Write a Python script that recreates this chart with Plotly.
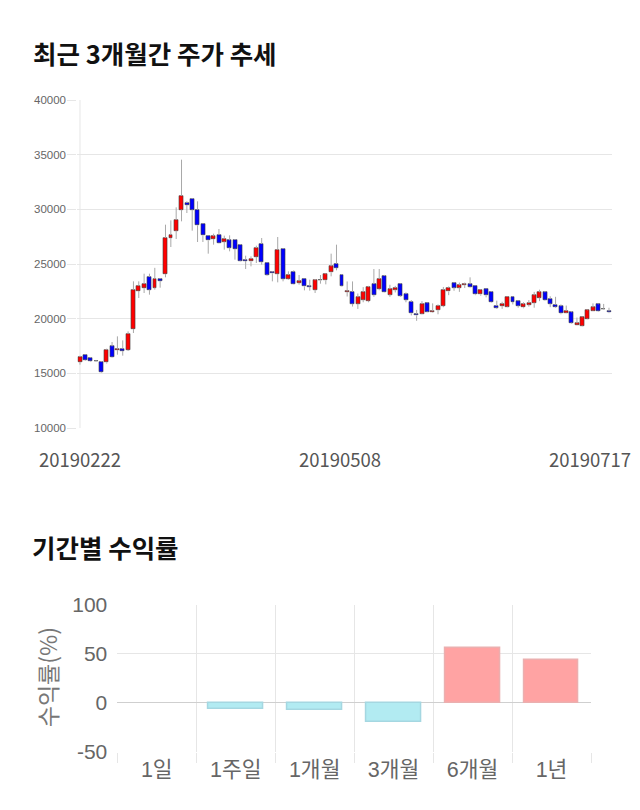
import pandas as pd
import plotly.graph_objects as go

# ---------------- data ----------------
holidays = ["2019-03-01", "2019-05-01", "2019-05-06", "2019-06-06"]
_days = pd.bdate_range("2019-02-22", "2019-07-17")
dates = [d.strftime("%Y%m%d") for d in _days if d.strftime("%Y-%m-%d") not in holidays]

opens = [16035, 16676, 16401, 16157, 16035, 16005, 17468, 17163, 17255, 17133,
         19054, 22530, 22804, 23810, 22834, 23627, 24085, 27378, 28048, 29969,
         30579, 30975, 29969, 28689, 27591, 27286, 27682, 27042, 27164, 27195,
         26768, 25396, 25243, 25640, 26829, 25091, 24268, 24085, 26402, 23627,
         24298, 23261, 23658, 22956, 22621, 23505, 23505, 24237, 25030, 24019,
         22456, 22456, 21351, 21720, 21627, 23160, 22700, 23897, 22210, 22640,
         23160, 22240, 21535, 20430, 20462, 21412, 20600, 20768, 21167, 22486,
         23250, 22850, 23100, 23140, 23018, 22225, 22683, 22439, 21158, 21158,
         21097, 21982, 21585, 21036, 21280, 21463, 21920, 22408, 21800, 21280,
         21128, 20548, 20579, 19420, 19360, 20000, 20731, 21311, 20900, 20730]
highs = [16615, 16706, 16462, 16218, 16096, 17255, 17865, 18383, 18017, 18840,
         23414, 23414, 24115, 24115, 24650, 23700, 28597, 28993, 30183, 34543,
         30731, 31036, 30731, 28689, 27591, 27774, 28201, 27591, 27621, 27286,
         26829, 25761, 25701, 26676, 27378, 25091, 24329, 27469, 26463, 24329,
         24420, 23993, 23658, 23566, 23627, 23993, 24115, 25945, 26768, 24080,
         23406, 23406, 22300, 22885, 23000, 24540, 24540, 24000, 23100, 23000,
         23200, 22400, 21700, 20800, 21600, 21450, 21400, 21300, 22900, 22950,
         23300, 23300, 23300, 23780, 23018, 22700, 22700, 22500, 21650, 21550,
         22000, 22000, 21600, 21500, 21700, 22450, 22653, 22500, 22050, 22000,
         21300, 21200, 20700, 20100, 20150, 20800, 21400, 21350, 21350, 21000]
lows = [15792, 16157, 16035, 16035, 15029, 15900, 16400, 16706, 16615, 17041,
        18688, 21889, 22347, 22194, 22651, 22834, 23780, 26554, 27286, 28902,
        29664, 28048, 27012, 27012, 25945, 26768, 26859, 26311, 26158, 25396,
        25243, 24542, 24787, 25091, 24939, 23932, 23414, 23322, 23414, 23566,
        23109, 23109, 22590, 22560, 22347, 23200, 23139, 23871, 24420, 22950,
        22026, 21106, 20890, 21500, 21500, 22000, 22600, 22400, 22000, 22400,
        22000, 21500, 20300, 19800, 20400, 20600, 20550, 20400, 21050, 22150,
        22550, 22450, 22800, 22850, 22150, 22100, 21950, 21450, 20900, 20900,
        21050, 21300, 21000, 20950, 21100, 21000, 21600, 21650, 21050, 21000,
        20400, 20500, 19550, 19400, 19300, 19950, 20700, 20650, 20800, 20500]
closes = [16493, 16218, 16096, 16096, 15090, 17163, 16462, 17224, 17041, 18627,
          22651, 23017, 23200, 22651, 23627, 23444, 27378, 27652, 29054, 31250,
          30396, 29969, 28536, 27621, 27164, 27530, 26890, 27317, 26493, 26372,
          25304, 25274, 25487, 26463, 25182, 24024, 24146, 26311, 23627, 24024,
          23139, 23414, 22956, 22895, 23505, 23566, 24054, 24787, 24634, 23007,
          22548, 21351, 21965, 22425, 22885, 22150, 23620, 22425, 22700, 22820,
          22118, 21720, 20492, 20308, 21350, 20645, 20700, 21167, 22640, 22820,
          22850, 23040, 23160, 22896, 22225, 22652, 22134, 21494, 21005, 21341,
          21982, 21524, 21189, 21311, 21433, 22134, 22408, 21707, 21372, 21097,
          20487, 20730, 19634, 19573, 20122, 20762, 21036, 20700, 20850, 20579]

label_dates = ["20190222", "20190508", "20190717"]

periods = ["1일", "1주일", "1개월", "3개월", "6개월", "1년"]
returns = [0, -6.5, -7.5, -20, 56.3, 43.7]

price_ticks = [10000, 15000, 20000, 25000, 30000, 35000, 40000]
return_ticks = [-50, 0, 50, 100]
return_tick_text = ["-50", "0", "50", "100"]

# ---------------- figure ----------------
W, H = 640, 810
n = len(dates)
step = (609 - 80) / (n - 1)           # pixel spacing of candles
x_left, x_right = 80 - step / 2, 609 + step / 2

fig = go.Figure()

# wicks (split so they do not cross the body)
wx, wy = [], []
for d, o, h, l, c in zip(dates, opens, highs, lows, closes):
    top, bot = max(o, c), min(o, c)
    wx += [d, d, None, d, d, None]
    wy += [h, top, None, bot, l, None]
fig.add_trace(go.Scatter(x=wx, y=wy, mode="lines",
                         line=dict(color="#a8a8a8", width=1),
                         hoverinfo="skip", xaxis="x", yaxis="y"))

# bodies
body_base = [min(o, c) for o, c in zip(opens, closes)]
body_h = [abs(c - o) for o, c in zip(opens, closes)]
body_col = ["#ff0000" if c >= o else "#0000ff" for o, c in zip(opens, closes)]
fig.add_trace(go.Bar(x=dates, y=body_h, base=body_base, width=0.74,
                     marker=dict(color=body_col, line=dict(color="#3a3a3a", width=0.6)),
                     hoverinfo="skip", xaxis="x", yaxis="y"))

# returns bars
ret_fill = ["rgb(255,163,163)" if v >= 0 else "rgb(178,235,242)" for v in returns]
ret_line = ["rgb(235,175,175)" if v >= 0 else "rgb(165,215,225)" for v in returns]
ret_lw = [0 if v == 0 else 1.5 for v in returns]
fig.add_trace(go.Bar(x=periods, y=returns, width=0.69,
                     marker=dict(color=ret_fill, line=dict(color=ret_line, width=ret_lw)),
                     hoverinfo="skip", xaxis="x2", yaxis="y2"))

grid = "#e6e6e6"
fig.update_layout(
    width=W, height=H, margin=dict(l=0, r=0, t=0, b=0, pad=0, autoexpand=False),
    autosize=False,
    paper_bgcolor="white", plot_bgcolor="white", showlegend=False,
    bargap=0,
    xaxis=dict(domain=[x_left / W, x_right / W], type="category", range=[-0.5, n - 0.5],
               showticklabels=False, showgrid=False, ticks="", zeroline=False,
               showline=False, anchor="y", automargin=False),
    yaxis=dict(domain=[(H - 428) / H, (H - 100) / H], range=[10000, 40000],
               tickvals=price_ticks, tickformat="d", gridcolor=grid, gridwidth=1,
               ticks="outside", ticklen=9, tickcolor=grid, ticklabelstandoff=-1,
               tickfont=dict(family="Liberation Sans, Arial", size=11.5, color="#666"),
               showline=False, zeroline=False, anchor="x", automargin=False),
    xaxis2=dict(domain=[117.3 / W, 591 / W], type="category", tickson="boundaries",
                ticks="outside", ticklen=10, tickcolor=grid, showgrid=True, gridcolor=grid,
                ticklabelstandoff=3,
                tickfont=dict(family="Liberation Sans, Noto Sans CJK KR", size=21.5, color="#666"),
                zeroline=False, showline=False, anchor="y2", automargin=False),
    yaxis2=dict(domain=[(H - 751.7) / H, (H - 605) / H], range=[-50, 100],
                tickvals=return_ticks, ticktext=return_tick_text,
                gridcolor=grid, zeroline=True, zerolinecolor="#cfcfcf",
                zerolinewidth=1, ticks="", ticklabelstandoff=9,
                tickfont=dict(family="Liberation Sans, Arial", size=21, color="#666"),
                showline=False, anchor="x2", automargin=False),
    shapes=[dict(type="line", xref="x", yref="y", x0=0, x1=0, y0=10000, y1=40000,
                 line=dict(color=grid, width=1), layer="below")],
)

ann = [
    dict(text="최근 3개월간 주가 추세", xref="paper", yref="paper", x=31 / W, y=(H - 52) / H,
         xanchor="left", yanchor="middle", showarrow=False,
         font=dict(family="Noto Sans CJK KR", size=25.5, color="#111", weight="bold")),
    dict(text="기간별 수익률", xref="paper", yref="paper", x=30 / W, y=(H - 546) / H,
         xanchor="left", yanchor="middle", showarrow=False,
         font=dict(family="Noto Sans CJK KR", size=25.5, color="#111", weight="bold")),
    dict(text="수익률(%)", xref="paper", yref="paper", x=46.7 / W, y=(H - 677.5) / H,
         xanchor="center", yanchor="middle", textangle=-90, showarrow=False,
         font=dict(family="Noto Sans CJK KR", size=23, color="#777")),
]
shifts = [0, -6.7, -19]
for d, s in zip(label_dates, shifts):
    ann.append(dict(text=d, xref="x", yref="paper", x=dates.index(d), xshift=s,
                    y=(H - 459) / H, xanchor="center", yanchor="middle", showarrow=False,
                    font=dict(family="Noto Sans CJK KR", size=18.5, color="#555")))
fig.update_layout(annotations=ann)

fig.write_html("out.html")
